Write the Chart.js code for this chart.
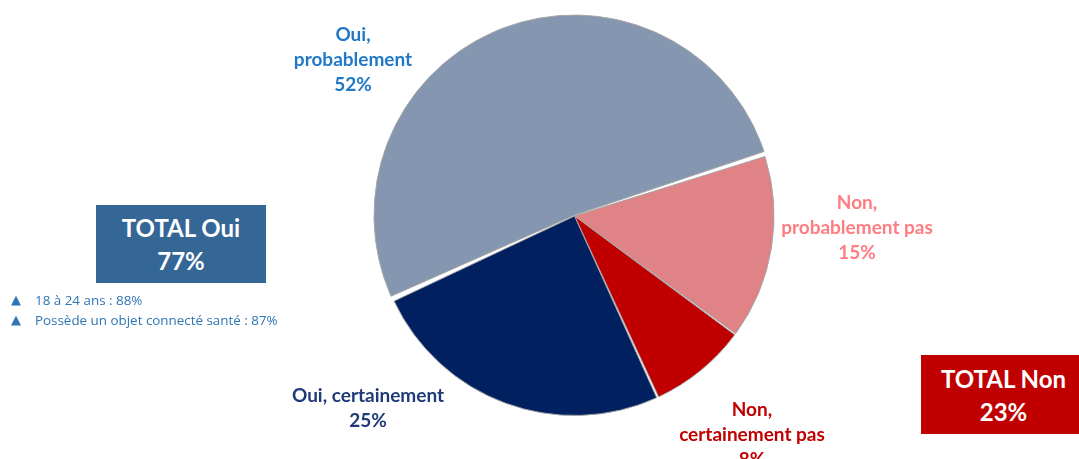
<!DOCTYPE html>
<html lang="fr">
<head>
<meta charset="utf-8">
<script src="https://cdn.jsdelivr.net/npm/chart.js@4.4.0/dist/chart.umd.min.js"></script>
<style>
  html, body { margin: 0; padding: 0; background: #fff; }
  body { width: 1079px; height: 459px; position: relative; overflow: hidden; font-family: Lato, "Open Sans", sans-serif; }
  #wrap { position: absolute; left: 0; top: 0; width: 1079px; height: 459px; }
  .lbl { position: absolute; font-weight: bold; font-size: 19px; line-height: 25px; text-align: center; white-space: nowrap; transform: translateX(-50%); }
  .box { position: absolute; color: #fff; font-weight: bold; font-size: 24px; line-height: 33px; text-align: center; display: flex; flex-direction: column; justify-content: center; box-sizing: border-box; }
  .notes { position: absolute; left: 11px; top: 290px; color: #2e75b6; font-size: 13.4px; line-height: 20px; font-family: "Open Sans", Lato, sans-serif; }
  .notes div { height: 20px; }
  .notes span { display: inline-block; width: 24px; font-size: 13px; line-height: 20px; vertical-align: top; font-family: "DejaVu Sans", sans-serif; }
</style>
</head>
<body>
<div id="wrap"><canvas id="pie"></canvas></div>

<div class="lbl" style="left:353px; top:21px; color:#1f78c8;">Oui,<br>probablement<br>52%</div>
<div class="lbl" style="left:857px; top:189px; color:#ff7c80;">Non,<br>probablement pas<br>15%</div>
<div class="lbl" style="left:368px; top:382px; color:#1f3a78;">Oui, certainement<br>25%</div>
<div class="lbl" style="left:752px; top:396px; color:#c00000;">Non,<br>certainement pas<br>8%</div>

<div class="box" style="left:96px; top:205px; width:170px; height:78px; background:#346696;">TOTAL Oui<br>77%</div>
<div class="box" style="left:921px; top:355px; width:165px; height:79px; background:#c00000;">TOTAL Non<br>23%</div>

<div class="notes">
  <div><span>&#9650;</span>18 à 24 ans : 88%</div>
  <div><span>&#9650;</span>Possède un objet connecté santé : 87%</div>
</div>

<script>
// answers, clockwise starting from the grey/pink boundary
const answers = ["Non, probablement pas", "Non, certainement pas", "Oui, certainement", "Oui, probablement"];
const shares = [15, 8, 25, 52];
const sliceColors = ["#e08387", "#c00000", "#002060", "#8496b0"];
const sliceOffsets = [0, 0, 0, 3];

new Chart(document.getElementById("pie"), {
  type: "pie",
  data: {
    labels: answers,
    datasets: [{
      data: shares,
      backgroundColor: sliceColors,
      borderColor: "#a6a6a6",
      borderWidth: 1,
      spacing: 2,
      offset: sliceOffsets,
    }],
  },
  options: {
    responsive: true,
    maintainAspectRatio: false,
    animation: false,
    rotation: 72.4,
    layout: { padding: { left: 373, right: 303, top: 13, bottom: 40 } },
    plugins: { legend: { display: false }, tooltip: { enabled: false } },
  },
});
</script>
</body>
</html>
